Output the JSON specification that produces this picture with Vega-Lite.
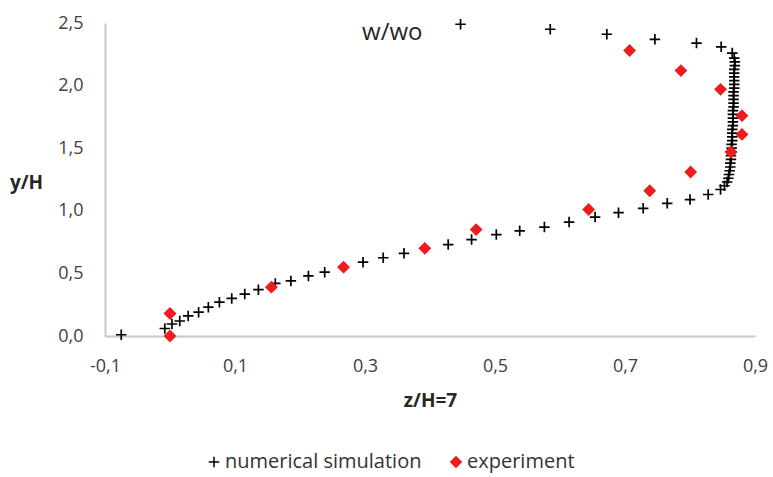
{
  "$schema": "https://vega.github.io/schema/vega-lite/v6.json",
  "autosize": {"type": "none"},
  "width": 650,
  "height": 313,
  "padding": {"left": 105, "top": 23, "right": 18, "bottom": 141},
  "background": "white",
  "config": {
    "view": {"stroke": null},
    "font": "Open Sans",
    "axis": {"labelColor": "#404040", "titleColor": "#262626", "domainColor": "#c8c8c8", "domainWidth": 2, "ticks": false, "grid": false, "labelFontSize": 18, "titleFontSize": 19, "titleFontWeight": "bold", "labelFont": "Open Sans", "titleFont": "Open Sans", "labelFlush": false},
    "legend": {"labelFont": "Open Sans", "labelFontSize": 20, "labelColor": "#333333", "labelLimit": 0, "orient": "none", "direction": "horizontal", "legendX": 99, "legendY": 429, "columnPadding": 24, "symbolSize": 110, "labelOffset": 1, "title": null}
  },
  "layer": [
    {
      "data": {
        "values": [
          {"series": "numerical simulation", "x": -0.075, "y": 0.01},
          {"series": "numerical simulation", "x": -0.008, "y": 0.06},
          {"series": "numerical simulation", "x": 0.003, "y": 0.096},
          {"series": "numerical simulation", "x": 0.015, "y": 0.12},
          {"series": "numerical simulation", "x": 0.028, "y": 0.16},
          {"series": "numerical simulation", "x": 0.044, "y": 0.19},
          {"series": "numerical simulation", "x": 0.059, "y": 0.23},
          {"series": "numerical simulation", "x": 0.076, "y": 0.27},
          {"series": "numerical simulation", "x": 0.095, "y": 0.30},
          {"series": "numerical simulation", "x": 0.115, "y": 0.335},
          {"series": "numerical simulation", "x": 0.136, "y": 0.37},
          {"series": "numerical simulation", "x": 0.162, "y": 0.42},
          {"series": "numerical simulation", "x": 0.186, "y": 0.44},
          {"series": "numerical simulation", "x": 0.213, "y": 0.48},
          {"series": "numerical simulation", "x": 0.238, "y": 0.51},
          {"series": "numerical simulation", "x": 0.267, "y": 0.55},
          {"series": "numerical simulation", "x": 0.297, "y": 0.59},
          {"series": "numerical simulation", "x": 0.328, "y": 0.625},
          {"series": "numerical simulation", "x": 0.36, "y": 0.66},
          {"series": "numerical simulation", "x": 0.428, "y": 0.73},
          {"series": "numerical simulation", "x": 0.464, "y": 0.77},
          {"series": "numerical simulation", "x": 0.502, "y": 0.81},
          {"series": "numerical simulation", "x": 0.538, "y": 0.84},
          {"series": "numerical simulation", "x": 0.576, "y": 0.87},
          {"series": "numerical simulation", "x": 0.614, "y": 0.91},
          {"series": "numerical simulation", "x": 0.654, "y": 0.95},
          {"series": "numerical simulation", "x": 0.69, "y": 0.985},
          {"series": "numerical simulation", "x": 0.728, "y": 1.02},
          {"series": "numerical simulation", "x": 0.765, "y": 1.06},
          {"series": "numerical simulation", "x": 0.80, "y": 1.09},
          {"series": "numerical simulation", "x": 0.828, "y": 1.13},
          {"series": "numerical simulation", "x": 0.847, "y": 1.17},
          {"series": "numerical simulation", "x": 0.853, "y": 1.20},
          {"series": "numerical simulation", "x": 0.857, "y": 1.23},
          {"series": "numerical simulation", "x": 0.859, "y": 1.26},
          {"series": "numerical simulation", "x": 0.860, "y": 1.29},
          {"series": "numerical simulation", "x": 0.861, "y": 1.32},
          {"series": "numerical simulation", "x": 0.862, "y": 1.35},
          {"series": "numerical simulation", "x": 0.862, "y": 1.38},
          {"series": "numerical simulation", "x": 0.863, "y": 1.41},
          {"series": "numerical simulation", "x": 0.863, "y": 1.44},
          {"series": "numerical simulation", "x": 0.864, "y": 1.47},
          {"series": "numerical simulation", "x": 0.864, "y": 1.50},
          {"series": "numerical simulation", "x": 0.864, "y": 1.53},
          {"series": "numerical simulation", "x": 0.865, "y": 1.56},
          {"series": "numerical simulation", "x": 0.865, "y": 1.59},
          {"series": "numerical simulation", "x": 0.865, "y": 1.62},
          {"series": "numerical simulation", "x": 0.865, "y": 1.65},
          {"series": "numerical simulation", "x": 0.866, "y": 1.68},
          {"series": "numerical simulation", "x": 0.866, "y": 1.71},
          {"series": "numerical simulation", "x": 0.866, "y": 1.74},
          {"series": "numerical simulation", "x": 0.866, "y": 1.77},
          {"series": "numerical simulation", "x": 0.866, "y": 1.80},
          {"series": "numerical simulation", "x": 0.867, "y": 1.83},
          {"series": "numerical simulation", "x": 0.867, "y": 1.86},
          {"series": "numerical simulation", "x": 0.867, "y": 1.89},
          {"series": "numerical simulation", "x": 0.867, "y": 1.92},
          {"series": "numerical simulation", "x": 0.867, "y": 1.95},
          {"series": "numerical simulation", "x": 0.868, "y": 1.98},
          {"series": "numerical simulation", "x": 0.868, "y": 2.01},
          {"series": "numerical simulation", "x": 0.868, "y": 2.04},
          {"series": "numerical simulation", "x": 0.868, "y": 2.07},
          {"series": "numerical simulation", "x": 0.868, "y": 2.10},
          {"series": "numerical simulation", "x": 0.868, "y": 2.13},
          {"series": "numerical simulation", "x": 0.869, "y": 2.16},
          {"series": "numerical simulation", "x": 0.869, "y": 2.19},
          {"series": "numerical simulation", "x": 0.868, "y": 2.22},
          {"series": "numerical simulation", "x": 0.865, "y": 2.26},
          {"series": "numerical simulation", "x": 0.848, "y": 2.31},
          {"series": "numerical simulation", "x": 0.81, "y": 2.34},
          {"series": "numerical simulation", "x": 0.746, "y": 2.37},
          {"series": "numerical simulation", "x": 0.672, "y": 2.41},
          {"series": "numerical simulation", "x": 0.585, "y": 2.45},
          {"series": "numerical simulation", "x": 0.447, "y": 2.49},
          {"series": "experiment", "x": 0.0, "y": 0.0},
          {"series": "experiment", "x": 0.0, "y": 0.18},
          {"series": "experiment", "x": 0.156, "y": 0.39},
          {"series": "experiment", "x": 0.267, "y": 0.55},
          {"series": "experiment", "x": 0.392, "y": 0.70},
          {"series": "experiment", "x": 0.471, "y": 0.85},
          {"series": "experiment", "x": 0.644, "y": 1.01},
          {"series": "experiment", "x": 0.738, "y": 1.16},
          {"series": "experiment", "x": 0.801, "y": 1.31},
          {"series": "experiment", "x": 0.863, "y": 1.47},
          {"series": "experiment", "x": 0.88, "y": 1.61},
          {"series": "experiment", "x": 0.88, "y": 1.76},
          {"series": "experiment", "x": 0.847, "y": 1.97},
          {"series": "experiment", "x": 0.786, "y": 2.12},
          {"series": "experiment", "x": 0.707, "y": 2.28}
        ]
      },
      "mark": {"type": "point", "filled": true, "strokeWidth": 1.7, "opacity": 1, "size": 110},
      "encoding": {
        "x": {"field": "x", "type": "quantitative", "scale": {"domain": [-0.1, 0.9], "nice": false, "zero": false},
          "axis": {"values": [-0.1, 0.1, 0.3, 0.5, 0.7, 0.9], "labelExpr": "replace(replace(format(datum.value, '.1f'), '.', ','), '\u2212', '-')", "title": "z/H=7", "labelPadding": 21, "titlePadding": 16}},
        "y": {"field": "y", "type": "quantitative", "scale": {"domain": [0, 2.5], "nice": false},
          "axis": {"values": [0, 0.5, 1, 1.5, 2, 2.5], "labelExpr": "replace(format(datum.value, '.1f'), '.', ',')", "title": "y/H", "labelPadding": 22, "titleAngle": 0, "titleAlign": "center", "titleBaseline": "middle", "titleX": -79, "titleY": 159}},
        "shape": {"field": "series", "type": "nominal",
          "scale": {"domain": ["numerical simulation", "experiment"], "range": ["M-1,0H1M0,-1V1", "diamond"]}},
        "fill": {"field": "series", "type": "nominal",
          "scale": {"domain": ["numerical simulation", "experiment"], "range": ["#000000", "#ee1c1c"]}},
        "stroke": {"field": "series", "type": "nominal",
          "scale": {"domain": ["numerical simulation", "experiment"], "range": ["#000000", "#ee1c1c"]}}
      }
    },
    {
      "data": {"values": [{"x": 0.342, "y": 2.42, "label": "w/wo"}]},
      "mark": {"type": "text", "font": "Open Sans", "fontSize": 24, "color": "#262626", "align": "center", "baseline": "middle"},
      "encoding": {
        "x": {"field": "x", "type": "quantitative"},
        "y": {"field": "y", "type": "quantitative"},
        "text": {"field": "label"}
      }
    }
  ]
}
